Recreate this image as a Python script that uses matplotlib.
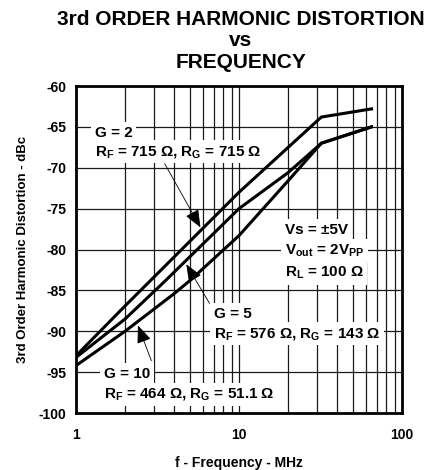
import numpy as np
import matplotlib
matplotlib.use("Agg")
import matplotlib.pyplot as plt

plt.rcParams['font.family'] = ['Liberation Sans', 'DejaVu Sans']
plt.rcParams['font.weight'] = 'bold'
plt.rcParams['axes.labelweight'] = 'bold'
plt.rcParams['axes.unicode_minus'] = False
plt.rcParams['mathtext.default'] = 'regular'

# data (frequency in MHz, distortion in dBc)
freq_g2 = [1, 2, 10, 32, 65]
hd3_g2 = [-93.0, -86.9, -73.0, -63.8, -62.8]

freq_g5 = [1, 2, 3.5, 10, 20, 32, 65]
hd3_g5 = [-93.2, -88.5, -83.9, -75.0, -70.6, -67.0, -65.0]

freq_g10 = [1, 2, 4, 5, 10, 20, 32, 65]
hd3_g10 = [-94.2, -90.0, -85.4, -83.8, -78.3, -71.6, -67.0, -65.0]

y_ticks = [-60, -65, -70, -75, -80, -85, -90, -95, -100]
x_ticks = [1, 10, 100]
x_tick_labels = ['1', '10', '100']


def on_curve(f, freqs, vals):
    """y value of a curve at frequency f (interpolated on log f)."""
    return np.interp(np.log10(f), np.log10(freqs), vals)


fig = plt.figure(figsize=(4.28, 4.70), dpi=100)
W, H = 428, 470
ax = fig.add_axes([76 / W, 1 - 413 / H, 326 / W, 327 / H])

ax.set_xscale('log')
ax.set_xlim(1, 100)
ax.set_ylim(-100, -60)

for f, v in [(freq_g2, hd3_g2), (freq_g5, hd3_g5), (freq_g10, hd3_g10)]:
    ax.plot(f, v, color='black', lw=2.2, zorder=4, solid_joinstyle='miter')

ax.set_xticks(x_ticks)
ax.set_xticklabels(x_tick_labels)
ax.set_yticks(y_ticks)
ax.xaxis.set_minor_locator(matplotlib.ticker.LogLocator(base=10, subs=np.arange(2, 10)))
ax.xaxis.set_minor_formatter(matplotlib.ticker.NullFormatter())
ax.tick_params(which='both', length=0)
ax.tick_params(axis='x', pad=11, labelsize=10)
ax.tick_params(axis='y', pad=7, labelsize=10)
for t in ax.get_xticklabels() + ax.get_yticklabels():
    t.set_fontweight('bold')
ax.grid(True, which='both', color='#1a1a1a', lw=0.9)
ax.set_axisbelow(True)
for s in ax.spines.values():
    s.set_linewidth(2.0)

ax.set_xlabel('f - Frequency - MHz', fontsize=10, labelpad=10)
ax.set_ylabel('3rd Order Harmonic Distortion - dBc', fontsize=9.5, labelpad=7)

# title, three centred lines (kept inside the figure)
fig.text(241 / W, 1 - 25 / H, '3rd ORDER HARMONIC DISTORTION', ha='center',
         va='baseline', fontsize=15)
fig.text(241 / W, 1 - 46 / H, 'vs', ha='center', va='baseline', fontsize=15)
fig.text(241 / W, 1 - 68 / H, 'FREQUENCY', ha='center', va='baseline', fontsize=15)

box = dict(facecolor='white', edgecolor='none', pad=2.5)


def label(px, py, s):
    ax.text((px - 76) / 326, (413 - py) / 327, s, transform=ax.transAxes,
            ha='left', va='baseline', fontsize=11, bbox=box, zorder=3)


label(95, 137, 'G = 2')
label(95, 155, r'R$_{F}$ = 715 Ω, R$_{G}$ = 715 Ω')
label(285, 234, 'Vs = ±5V')
label(285, 255, r'V$_{out}$ = 2V$_{PP}$')
label(285, 277, r'R$_{L}$ = 100 Ω')
label(214, 318, 'G = 5')
label(214, 337, r'R$_{F}$ = 576 Ω, R$_{G}$ = 143 Ω')
label(104, 378, 'G = 10')
label(104, 398, r'R$_{F}$ = 464 Ω, R$_{G}$ = 51.1 Ω')

arrow = dict(arrowstyle='-|>,head_length=1.1,head_width=0.45', color='black',
             lw=0.6, shrinkA=0, shrinkB=0)
ax.annotate('', xy=(5.8, on_curve(5.8, freq_g2, hd3_g2) + 0.4),
            xytext=(3.5, -69.5), arrowprops=arrow, zorder=5)
ax.annotate('', xy=(4.75, on_curve(4.75, freq_g5, hd3_g5) - 0.5),
            xytext=(6.6, -86.6), arrowprops=arrow, zorder=5)
ax.annotate('', xy=(2.4, on_curve(2.4, freq_g10, hd3_g10) - 0.5),
            xytext=(2.9, -93.6), arrowprops=arrow, zorder=5)

fig.savefig('out.png', dpi=100)
